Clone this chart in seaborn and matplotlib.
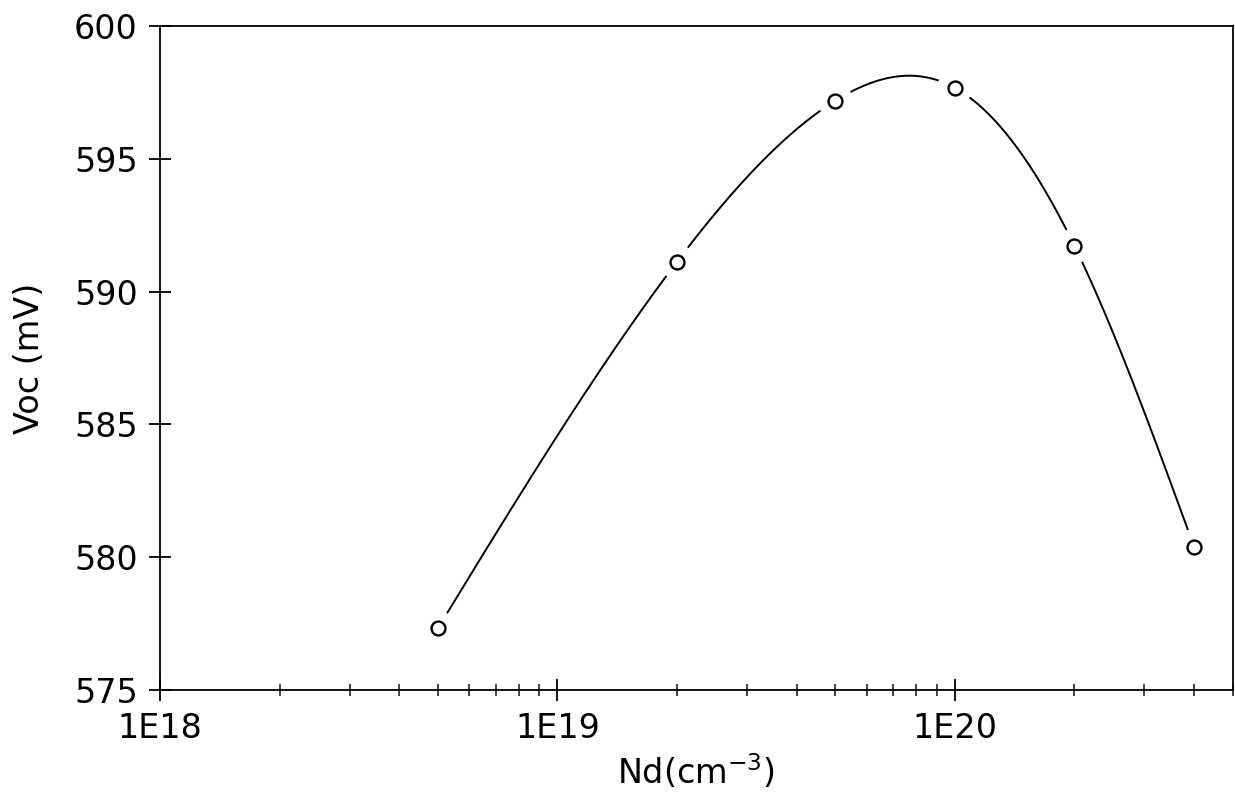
import numpy as np
import pandas as pd
import matplotlib
matplotlib.use("Agg")
import matplotlib.pyplot as plt
import seaborn as sns
from matplotlib.ticker import LogLocator, FixedLocator, NullFormatter

# Donor concentration (cm^-3) and open-circuit voltage (mV)
nd = [5e18, 2e19, 5e19, 1e20, 2e20, 4e20]
voc = [577.32, 591.13, 597.19, 597.68, 591.73, 580.40]

x_ticks = [1e18, 1e19, 1e20]
x_tick_labels = ["1E18", "1E19", "1E20"]
y_ticks = [575, 580, 585, 590, 595, 600]


def natural_spline(x, y, xs):
    """Natural cubic spline through (x, y), evaluated at xs."""
    x = np.asarray(x, float)
    y = np.asarray(y, float)
    n = len(x)
    h = np.diff(x)
    A = np.zeros((n, n))
    b = np.zeros(n)
    A[0, 0] = A[-1, -1] = 1.0
    for i in range(1, n - 1):
        A[i, i - 1] = h[i - 1]
        A[i, i] = 2 * (h[i - 1] + h[i])
        A[i, i + 1] = h[i]
        b[i] = 3 * ((y[i + 1] - y[i]) / h[i] - (y[i] - y[i - 1]) / h[i - 1])
    c = np.linalg.solve(A, b)
    out = np.empty_like(xs)
    for k, xv in enumerate(xs):
        i = min(max(np.searchsorted(x, xv) - 1, 0), n - 2)
        dx = xv - x[i]
        bi = (y[i + 1] - y[i]) / h[i] - h[i] * (2 * c[i] + c[i + 1]) / 3
        di = (c[i + 1] - c[i]) / (3 * h[i])
        out[k] = y[i] + bi * dx + c[i] * dx ** 2 + di * dx ** 3
    return out


lx = np.log10(nd)
fine = np.linspace(lx[0], lx[-1], 400)
curve = pd.DataFrame({"nd": 10 ** fine, "voc": natural_spline(lx, voc, fine)})
pts = pd.DataFrame({"nd": nd, "voc": voc})

sns.set_style("ticks")
plt.rcParams["font.family"] = ["DejaVu Sans"]
plt.rcParams["text.color"] = "black"
plt.rcParams["axes.labelcolor"] = "black"

fig = plt.figure(figsize=(12.35, 7.94), dpi=100)
ax = fig.add_axes([0.1296, 0.131, 0.8684, 0.836])

sns.lineplot(data=curve, x="nd", y="voc", ax=ax, color="black", lw=1.4,
             sort=False, zorder=2)
# white halo so the curve stops short of each marker
sns.scatterplot(data=pts, x="nd", y="voc", ax=ax, s=650, color="white",
                edgecolor="none", zorder=3)
sns.scatterplot(data=pts, x="nd", y="voc", ax=ax, s=100, marker="o",
                facecolor="white", edgecolor="black", linewidth=1.7, zorder=4)

ax.set_xscale("log")
ax.set_xlim(1e18, 5e20)
ax.set_ylim(575, 600)

ax.xaxis.set_major_locator(FixedLocator(x_ticks))
ax.set_xticklabels(x_tick_labels)
ax.xaxis.set_minor_locator(LogLocator(base=10, subs=np.arange(2, 10)))
ax.xaxis.set_minor_formatter(NullFormatter())
ax.yaxis.set_major_locator(FixedLocator(y_ticks))
ax.set_yticklabels([str(v) for v in y_ticks])

ax.tick_params(axis="both", which="major", direction="inout", length=16,
               width=1.3, labelsize=24, colors="black", pad=8,
               bottom=True, left=True, top=False, right=False)
ax.tick_params(axis="x", which="minor", direction="inout", length=9,
               width=1.2, bottom=True, top=False)
ax.tick_params(axis="y", which="minor", left=False, right=False)

for side in ["left", "bottom", "top", "right"]:
    ax.spines[side].set_visible(True)
    ax.spines[side].set_color("black")
    ax.spines[side].set_linewidth(1.3)

ax.set_xlabel("Nd(cm$^{-3}$)", fontsize=24, labelpad=5)
ax.set_ylabel("Voc (mV)", fontsize=24, labelpad=20)

fig.savefig("out.png", dpi=100, facecolor="white")
